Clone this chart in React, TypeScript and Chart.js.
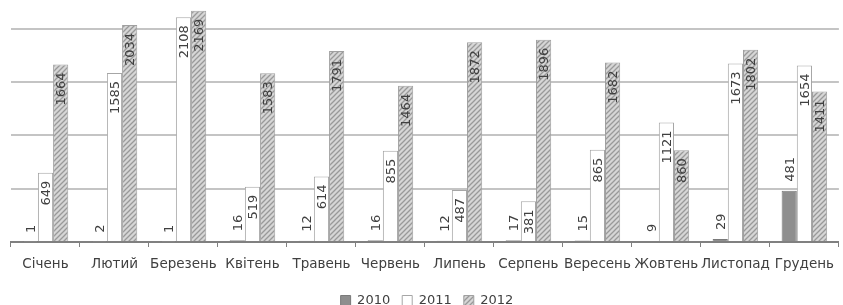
import React, { useEffect, useRef } from "react";
import { Chart, registerables } from "chart.js";

Chart.register(...registerables);

const months = ["Січень", "Лютий", "Березень", "Квітень", "Травень", "Червень", "Липень", "Серпень", "Вересень", "Жовтень", "Листопад", "Грудень"];
const seriesNames = ["2010", "2011", "2012"];
const values2010 = [1, 2, 1, 16, 12, 16, 12, 17, 15, 9, 29, 481];
const values2011 = [649, 1585, 2108, 519, 614, 855, 487, 381, 865, 1121, 1673, 1654];
const values2012 = [1664, 2034, 2169, 1583, 1791, 1464, 1872, 1896, 1682, 860, 1802, 1411];
const gridTicks = [0, 500, 1000, 1500, 2000];
const yMax = 2250;

const FONT = "'DejaVu Sans', Verdana, sans-serif";
const TEXT = "#404040";
const CANVAS_H = 317;

function makeHatch(): CanvasPattern | string {
  const c = document.createElement("canvas");
  c.width = 5;
  c.height = 5;
  const g = c.getContext("2d");
  if (!g) return "#c0c0c0";
  g.fillStyle = "#d6d6d6";
  g.fillRect(0, 0, 5, 5);
  g.strokeStyle = "#999999";
  g.lineWidth = 1.3;
  g.beginPath();
  g.moveTo(-1, 6); g.lineTo(6, -1);
  g.moveTo(-1, 1); g.lineTo(1, -1);
  g.moveTo(4, 6); g.lineTo(6, 4);
  g.stroke();
  const p = g.createPattern(c, "repeat");
  return p || "#c0c0c0";
}

const labelPlugin = {
  id: "barLabels",
  afterDatasetsDraw(chart: any) {
    const ctx = chart.ctx as CanvasRenderingContext2D;
    ctx.save();
    ctx.font = `13px ${FONT}`;
    ctx.fillStyle = TEXT;
    ctx.textBaseline = "middle";
    ctx.textAlign = "left";
    chart.data.datasets.forEach((ds: any, di: number) => {
      const meta = chart.getDatasetMeta(di);
      meta.data.forEach((bar: any, i: number) => {
        const txt = String(ds.data[i]);
        const w = ctx.measureText(txt).width;
        const { x, y } = bar.getProps(["x", "y"], true);
        const bottom = di === 0 ? y - 9 : y + 8 + w;
        ctx.save();
        ctx.translate(x + 1, bottom);
        ctx.rotate(-Math.PI / 2);
        ctx.fillText(txt, 0, 0);
        ctx.restore();
      });
    });
    ctx.restore();
  },
};

export default function App() {
  const ref = useRef<HTMLCanvasElement | null>(null);

  useEffect(() => {
    if (!ref.current) return;
    const hatch = makeHatch();
    const chart = new Chart(ref.current, {
      type: "bar",
      data: {
        labels: months,
        datasets: [
          {
            label: seriesNames[0],
            data: values2010,
            backgroundColor: "#8e8e8e",
            borderColor: "#7a7a7a",
            borderWidth: 1,
          },
          {
            label: seriesNames[1],
            data: values2011,
            backgroundColor: "#ffffff",
            borderColor: "#a6a6a6",
            borderWidth: 1,
          },
          {
            label: seriesNames[2],
            data: values2012,
            backgroundColor: hatch as any,
            borderColor: "#a0a0a0",
            borderWidth: 1,
          },
        ],
      },
      options: {
        responsive: false,
        animation: false,
        maintainAspectRatio: false,
        layout: { padding: { left: 11, right: 0, top: 2, bottom: 0 } },
        datasets: {
          bar: { categoryPercentage: 0.66, barPercentage: 1 },
        },
        plugins: {
          legend: {
            position: "bottom",
            labels: {
              font: { family: FONT, size: 13 },
              color: TEXT,
              boxWidth: 10,
              boxHeight: 10,
              padding: 12,
            },
          },
          tooltip: { enabled: false },
        },
        scales: {
          x: {
            afterFit: (scale: any) => {
              scale.height = 40;
            },
            grid: {
              display: true,
              drawOnChartArea: false,
              drawTicks: true,
              tickLength: 5,
              color: "#808080",
              offset: true,
            },
            border: { display: true, color: "#808080", width: 2 },
            ticks: {
              font: { family: FONT, size: 13.5 },
              color: TEXT,
              padding: 9,
              maxRotation: 0,
              autoSkip: false,
            },
          },
          y: {
            min: 0,
            max: yMax,
            afterBuildTicks: (scale: any) => {
              scale.ticks = gridTicks.map((v) => ({ value: v }));
            },
            grid: { color: "#c4c4c4", lineWidth: 2, drawTicks: false },
            border: { display: false },
            ticks: { display: false },
          },
        },
      },
      plugins: [labelPlugin],
    });
    return () => chart.destroy();
  }, []);

  return (
    <div style={{ position: "fixed", left: 0, top: 0, width: 843, height: 305, overflow: "hidden", background: "#fff" }}>
      <canvas ref={ref} width={843} height={CANVAS_H} style={{ display: "block" }} />
    </div>
  );
}
